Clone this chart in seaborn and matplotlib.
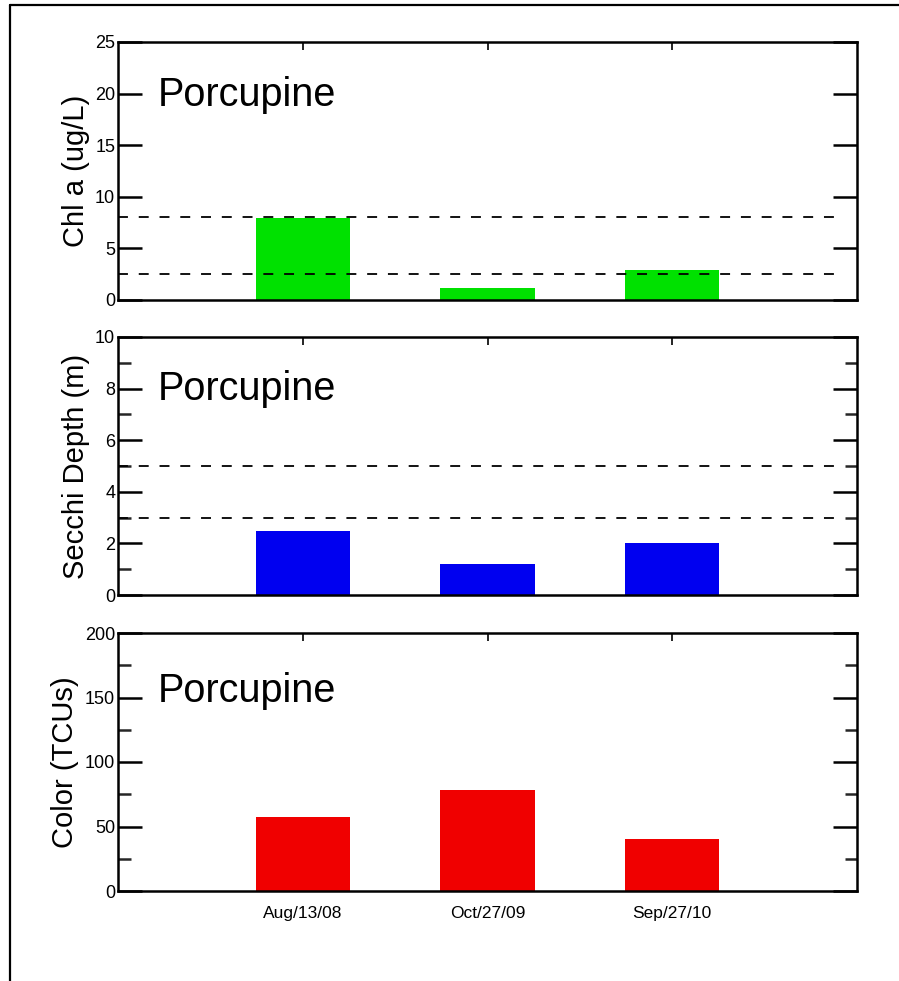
import matplotlib
matplotlib.use("Agg")
import matplotlib.pyplot as plt
from matplotlib.ticker import MultipleLocator
from matplotlib.lines import Line2D
import seaborn as sns
import pandas as pd

# ---- data ----
dates = ["Aug/13/08", "Oct/27/09", "Sep/27/10"]
chl_a = [7.9, 1.2, 2.9]
secchi = [2.5, 1.2, 2.0]
color_tcu = [57, 78, 40]
site = "Porcupine"

ylabels = ["Chl a (ug/L)", "Secchi Depth (m)", "Color (TCUs)"]
ymax = [25, 10, 200]
major_step = [5, 2, 50]
minor_step = [None, 1, 25]
ref_lines = [[8, 2.5], [5, 3], []]
bar_colors = ["#00E100", "#0000F0", "#F00000"]
series = [chl_a, secchi, color_tcu]

sns.set_theme(style="white")
plt.rcParams["font.family"] = ["Liberation Sans", "DejaVu Sans"]

W, H = 899, 981
fig = plt.figure(figsize=(W / 100, H / 100), dpi=100)

# panel pixel geometry (left, top, right, bottom)
panels_px = [(118, 42, 857, 300), (118, 337, 857, 595), (118, 633, 857, 891)]
text_base = [64, 63, 69]

for i, (l, t, r, b) in enumerate(panels_px):
    ax = fig.add_axes([l / W, 1 - b / H, (r - l) / W, (b - t) / H])
    df = pd.DataFrame({"date": dates, "value": series[i]})
    sns.barplot(data=df, x="date", y="value", color=bar_colors[i], saturation=1,
                width=0.51, errorbar=None, linewidth=0, ax=ax, zorder=2)
    ax.set_xlim(-1, 3)
    ax.set_ylim(0, ymax[i])
    for v in ref_lines[i]:
        ax.plot([-1, 2.93], [v, v], color="black", lw=1.3, ls=(0, (5.5, 6)), zorder=3)
    ax.yaxis.set_major_locator(MultipleLocator(major_step[i]))
    if minor_step[i]:
        ax.yaxis.set_minor_locator(MultipleLocator(minor_step[i]))
    ax.tick_params(axis="y", which="major", direction="in", left=True, right=True,
                   length=17, width=1.8, pad=2, labelsize=13, colors="black")
    ax.tick_params(axis="y", which="minor", direction="in", left=True, right=True,
                   length=9, width=1.8)
    ax.tick_params(axis="x", which="major", direction="in", top=True, bottom=False,
                   length=5.5, width=1.2, pad=11, labelsize=12.5,
                   labelbottom=(i == 2), colors="black")
    for s in ax.spines.values():
        s.set_visible(True)
        s.set_linewidth(1.8)
        s.set_color("black")
    ax.set_xlabel("")
    ax.set_ylabel(ylabels[i], fontsize=21, labelpad=4, color="black")
    ax.text((158 - l) / (r - l), 1 - text_base[i] / (b - t), site,
            transform=ax.transAxes, fontsize=28.5, ha="left", va="baseline", color="black")

# outer frame (partially visible)
fig.add_artist(Line2D([10 / W, 10 / W], [-0.01, 1 - 5 / H], color="black", lw=1.6,
                      transform=fig.transFigure))
fig.add_artist(Line2D([10 / W, 1.01], [1 - 5 / H, 1 - 5 / H], color="black", lw=1.6,
                      transform=fig.transFigure))

fig.savefig("out.png", dpi=100, facecolor="white")
